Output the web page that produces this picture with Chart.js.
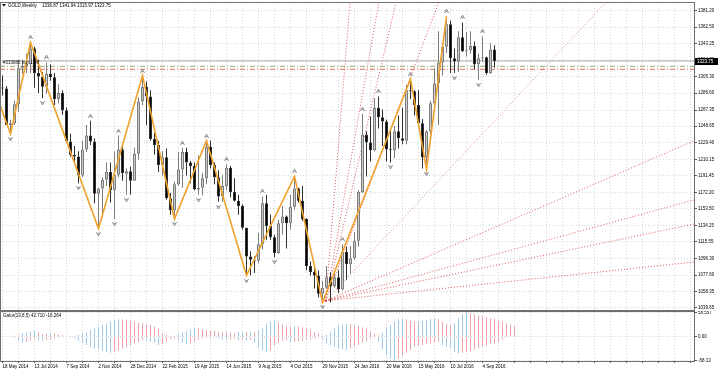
<!DOCTYPE html>
<html>
<head>
<meta charset="utf-8">
<title>GOLD Weekly</title>
<script src="https://cdn.jsdelivr.net/npm/chart.js@4.4.1/dist/chart.umd.min.js"></script>
<style>
  html, body { margin:0; padding:0; background:#ffffff; }
  body { width:718px; height:374px; position:relative; overflow:hidden; }
  canvas { position:absolute; left:0; }
  #priceCanvas { top:0; }
  #gatorCanvas { top:311px; }
</style>
</head>
<body>
<canvas id="priceCanvas" width="718" height="312"></canvas>
<canvas id="gatorCanvas" width="718" height="63"></canvas>
<script>
// ---------- DATA (weekly bars; index 0 = week of 18 May 2014) ----------
const symbolTitle = 'GOLD,Weekly';
const headerValues = '1336.87 1341.94 1315.97 1323.75';
const gatorTitle = 'Gator(13,8,5) 42.710 -16.264';
const tradeLabel = '#333886 buy 1.56';

const firstIdx = -1;
const opens = [1288,1293,1292,1250,1252,1274,1316,1318,1320,1338,
 1310,1306,1294,1309,1305,1280,1287,1267,1231,1216,
 1214,1192,1222,1238,1231,1171,1177,1187,1196,1175,
 1193,1222,1194,1197,1186,1217,1277,1294,1283,1234,
 1227,1204,1213,1166,1152,1182,1199,1219,1207,1203,
 1176,1178,1189,1225,1204,1190,1168,1180,1201,1173,
 1163,1157,1132,1099,1095,1094,1113,1160,1134,1121,
 1103,1137,1145,1137,1156,1177,1163,1142,1088,1081,
 1077,1056,1063,1075,1065,1075,1061,1104,1090,1097,
 1117,1173,1239,1230,1221,1270,1259,1254,1222,1221,
 1243,1235,1232,1290,1289,1273,1252,1213,1243,1275,
 1298,1322,1340,1366,1327,1323,1351,1335,1336,1341,
 1320,1327,1328,1310,1336.87];
const highs = [1305,1307,1295,1256,1278,1325,1325,1332,1345,1340,
 1325,1311,1322,1320,1310,1297,1290,1270,1240,1226,
 1220,1232,1250,1255,1235,1178,1190,1207,1207,1220,
 1238,1225,1200,1202,1224,1282,1307,1300,1290,1241,
 1232,1220,1223,1172,1185,1219,1224,1224,1209,1207,
 1215,1195,1232,1232,1207,1198,1193,1205,1203,1189,
 1170,1159,1132,1105,1099,1126,1168,1170,1147,1124,
 1141,1157,1146,1170,1191,1178,1180,1143,1093,1086,
 1083,1071,1088,1081,1082,1083,1113,1110,1111,1127,
 1175,1263,1243,1260,1281,1283,1268,1256,1244,1249,
 1261,1270,1296,1303,1290,1290,1257,1244,1278,1315,
 1358,1344,1375,1370,1338,1358,1368,1357,1358,1346,
 1332,1352,1329,1344,1341.94];
const lows = [1284,1284,1250,1240,1250,1265,1309,1310,1310,1293,
 1287,1281,1286,1301,1273,1275,1262,1230,1214,1205,
 1183,1190,1219,1227,1160,1131,1145,1180,1161,1142,
 1190,1186,1170,1170,1186,1210,1273,1250,1232,1216,
 1196,1192,1164,1147,1142,1180,1178,1192,1183,1175,
 1170,1169,1182,1200,1182,1162,1162,1175,1167,1162,
 1147,1130,1077,1077,1080,1091,1107,1118,1118,1098,
 1102,1124,1108,1130,1153,1161,1140,1083,1077,1062,
 1052,1046,1062,1046,1063,1057,1060,1072,1079,1095,
 1110,1172,1191,1208,1220,1246,1226,1208,1207,1212,
 1223,1228,1228,1280,1261,1250,1200,1199,1238,1268,
 1250,1307,1333,1310,1310,1311,1334,1329,1332,1314,
 1302,1323,1308,1309,1315.97];
const closes = [1293,1292,1250,1252,1274,1316,1318,1320,1338,1310,
 1306,1294,1309,1305,1280,1287,1267,1231,1216,1214,
 1192,1222,1238,1231,1171,1177,1187,1196,1175,1193,
 1222,1195,1197,1186,1217,1277,1294,1283,1234,1227,
 1204,1213,1166,1152,1182,1199,1219,1207,1203,1176,
 1178,1189,1225,1204,1190,1168,1180,1201,1173,1163,
 1157,1132,1099,1095,1094,1113,1160,1134,1121,1103,
 1137,1145,1137,1156,1177,1163,1142,1088,1081,1077,
 1056,1063,1075,1065,1075,1061,1104,1090,1097,1117,
 1173,1239,1230,1221,1270,1259,1254,1222,1221,1243,
 1235,1232,1290,1289,1273,1252,1213,1243,1275,1298,
 1322,1340,1366,1327,1323,1351,1335,1336,1341,1320,
 1327,1328,1310,1336.87,1323.75];

// time axis labels (week index -> label)
const dateIdx = [0,8,16,24,32,40,48,56,64,72,80,88,96,104,112,120];
const dateLabels = ['18 May 2014','13 Jul 2014','7 Sep 2014','2 Nov 2014','28 Dec 2014','22 Feb 2015',
  '19 Apr 2015','14 Jun 2015','9 Aug 2015','4 Oct 2015','29 Nov 2015','24 Jan 2016','20 Mar 2016',
  '15 May 2016','10 Jul 2016','4 Sep 2016'];
const gridIdx = [0,4,8,12,16,20,24,28,32,36,40,44,48,52,56,60,64,68,72,76,80,84,88,92,96,100,
  104,108,112,116,120,124,128,132,136,140,144,148,152,156,160,164,168,172];

// price axis ticks
const priceTicks = [1381.20,1362.50,1343.25,1324.70,1305.30,1286.60,1267.35,1248.65,1229.40,1210.15,
  1191.45,1172.20,1153.50,1134.25,1115.55,1096.30,1077.60,1058.35,1039.65];
const gatorTicks = [58.557, 0, -58.13];
const gatorTickLabels = ['58.557','0.00','-58.13'];

// ZigZag pivots
const zigzagIdx = [-3,2,7,24,35,43,51,61,73,80,102,106,111];
const zigzagPrice = [1303,1240,1345,1131,1307,1142,1232,1077,1191,1046,1303,1199,1375];

// Fractals (bar indices)
const upFractalIdx = [7,11,22,29,35,45,51,56,65,73,85,90,94,102,111,115,120];
const downFractalIdx = [2,10,19,24,28,31,43,49,54,61,68,80,97,106,113,119];

// Gann fan
const fanOrigin = [80.8, 1048];
const fanEndIdx = [86.9, 94.1, 98.4, 109.1, 150.9, 172.9, 172.9, 172.9, 172.9];
const fanEndPrice = [1391.5, 1391.5, 1391.5, 1391.5, 1391.5, 1232.0, 1163.9, 1136.2, 1092.5];

// horizontal levels (dash-dot)
const levelPrices = [1317.6, 1314.2];

// Gator oscillator (index 0 = week of 18 May 2014)
const gatorUp = [1.6,1.6,1.6,2.4,2.4,8.1,9.8,12.2,14.6,10.6,
 6.5,6.5,8.1,6.5,4.9,4.1,2.4,1.6,1.6,4.1,
 6.5,11.4,16.3,20.3,22.8,28.5,32.5,36.6,40.7,42.3,
 42.3,40.7,39.0,36.6,34.1,32.5,30.9,28.5,24.4,17.9,
 8.1,4.1,2.4,1.6,4.1,9.8,14.6,17.9,20.3,20.3,
 17.9,16.3,14.6,13.8,12.2,12.2,12.2,9.8,8.1,11.4,
 12.2,11.4,12.2,12.2,16.3,20.3,30.9,36.6,39.0,34.1,
 29.3,24.4,24.4,25.2,24.4,22.0,19.5,16.3,11.4,6.5,
 2.4,4.9,12.2,20.3,26.0,28.5,30.9,30.9,28.5,26.0,
 22.8,17.9,12.2,6.5,3.3,8.1,20.3,28.5,36.6,42.3,
 43.1,41.5,38.2,36.6,37.4,38.2,39.8,42.3,44.7,42.3,
 36.6,30.9,27.6,32.5,44.7,52.8,58.5,56.0,53.7,51.2,
 48.8,47.2,44.7,42.7,39.0,35.8,32.5,29.3,26.0];
const gatorDown = [-1.6,-1.6,-1.6,-2.4,-9.8,-14.6,-12.2,-8.1,-4.1,-8.1,
 -9.8,-8.1,-6.5,-4.1,-2.4,-1.6,-1.6,-2.4,-4.1,-9.8,
 -14.6,-20.3,-24.4,-28.5,-30.9,-34.1,-36.6,-39.0,-36.6,-32.5,
 -28.5,-24.4,-20.3,-16.3,-12.2,-8.1,-9.8,-12.2,-14.6,-20.3,
 -17.9,-12.2,-6.5,-4.1,-8.1,-14.6,-17.9,-16.3,-12.2,-6.5,
 -4.1,-2.4,-4.1,-2.4,-4.1,-8.1,-9.8,-6.5,-4.1,-8.1,
 -6.5,-9.8,-8.1,-14.6,-26.0,-32.5,-36.6,-32.5,-20.3,-14.6,
 -9.8,-8.1,-12.2,-12.2,-11.4,-9.8,-8.1,-6.5,-4.1,-2.4,
 -8.1,-16.3,-20.3,-24.4,-28.5,-30.9,-32.5,-28.5,-24.4,-20.3,
 -14.6,-9.8,-4.1,-2.4,-12.2,-30.0,-44.7,-52.8,-58.1,-52.0,
 -45.5,-39.0,-32.5,-24.4,-22.8,-20.3,-17.1,-16.3,-14.6,-12.2,
 -20.3,-24.4,-26.0,-36.6,-40.7,-39.0,-36.6,-34.1,-30.9,-27.6,
 -24.4,-21.1,-18.7,-16.3,-11.4,-6.5,-3.3];

// ---------- STYLE ----------
const FONT = "'Liberation Sans', Arial, sans-serif";
const FS = 4.5;
const X_MIN = -0.625, X_MAX = 172.875;
const BULL_FILL = '#cacaca', BULL_LINE = '#7c7c7c', BEAR_FILL = '#000000', BEAR_LINE = '#303030';
const GRID = '#d6d6d6';
const UP_COL = '#9ec9f0', DOWN_COL = '#f2a3aa';

Chart.defaults.font.family = FONT;
Chart.defaults.font.size = FS;
Chart.defaults.color = '#000';

const idxs = opens.map((_, k) => firstIdx + k);
const isBull = k => closes[k] >= opens[k];
const last = closes.length - 1;

const bodyData = idxs.map((i, k) => ({x: i, y: [opens[k], closes[k]]}));
const wickData = idxs.map((i, k) => ({x: i, y: [lows[k], highs[k]]}));
const zigzagData = zigzagIdx.map((i, k) => ({x: i, y: zigzagPrice[k]}));

const fanSets = fanEndIdx.map((e, k) => ({
  type: 'line',
  data: [{x: fanOrigin[0], y: fanOrigin[1]}, {x: e, y: fanEndPrice[k]}],
  borderColor: k === 4 ? 'rgba(230,115,140,0.9)' : 'rgba(225,55,55,0.85)',
  borderWidth: 1, borderDash: [1, 2], pointRadius: 0, order: 8, clip: 0
}));
const levelSets = levelPrices.map((p, k) => ({
  type: 'line',
  data: [{x: X_MIN, y: p}, {x: X_MAX, y: p}],
  borderColor: k === 0 ? '#9da873' : '#dc6f5e',
  borderWidth: 1, borderDash: [5, 2, 1, 2], pointRadius: 0, order: 7, clip: 0
}));
const bidSet = {
  type: 'line',
  data: [{x: X_MIN, y: closes[last]}, {x: X_MAX, y: closes[last]}],
  borderColor: '#a9a9a9', borderWidth: 1, pointRadius: 0, order: 7, clip: 0
};

function zeroPad(s) { s.paddingLeft = 0; s.paddingRight = 0; s.paddingTop = 0; s.paddingBottom = 0; }

const overlayA = {
  id: 'overlayA',
  afterDatasetsDraw(chart) {
    const {ctx, chartArea: a} = chart;
    const xs = chart.scales.x, ys = chart.scales.y;
    ctx.save();
    ctx.beginPath(); ctx.rect(a.left, a.top, a.right - a.left, a.bottom - a.top); ctx.clip();
    ctx.strokeStyle = '#8e8e8e'; ctx.lineWidth = 1;
    upFractalIdx.forEach(i => {
      const k = i - firstIdx;
      const px = xs.getPixelForValue(i);
      const py = Math.round(ys.getPixelForValue(highs[k])) - 5;
      ctx.beginPath();
      ctx.moveTo(px - 2, py + 2); ctx.lineTo(px, py - 2); ctx.lineTo(px + 2, py + 2);
      ctx.moveTo(px - 1, py + 0.5); ctx.lineTo(px + 1, py + 0.5);
      ctx.stroke();
    });
    downFractalIdx.forEach(i => {
      const k = i - firstIdx;
      const px = xs.getPixelForValue(i);
      const py = Math.round(ys.getPixelForValue(lows[k])) + 5;
      ctx.beginPath();
      ctx.moveTo(px - 2, py - 2); ctx.lineTo(px, py + 2); ctx.lineTo(px + 2, py - 2);
      ctx.moveTo(px - 1, py - 0.5); ctx.lineTo(px + 1, py - 0.5);
      ctx.stroke();
    });
    // fan anchor
    ctx.fillStyle = '#e03030';
    ctx.fillRect(xs.getPixelForValue(fanOrigin[0]) - 1, ys.getPixelForValue(fanOrigin[1]) - 1, 2, 2);
    // trade label
    ctx.fillStyle = '#111';
    ctx.font = FS + 'px ' + FONT;
    ctx.textBaseline = 'middle';
    ctx.fillText(tradeLabel, 3, Math.round(ys.getPixelForValue(closes[last])) + 2);
    ctx.restore();

    ctx.save();
    // header
    ctx.fillStyle = '#000';
    ctx.font = FS + 'px ' + FONT;
    ctx.textBaseline = 'middle';
    ctx.beginPath(); ctx.moveTo(2, 4); ctx.lineTo(6, 4); ctx.lineTo(4, 6.5); ctx.closePath(); ctx.fill();
    ctx.fillText(symbolTitle, 8, 5.5);
    ctx.fillText(headerValues, 42, 5.5);
    // frame
    ctx.strokeStyle = '#707070'; ctx.lineWidth = 1;
    ctx.strokeRect(0.5, a.top + 0.5, a.right, a.bottom - a.top);
    // current price tag
    const py = Math.round(ys.getPixelForValue(closes[last]));
    ctx.fillStyle = '#000';
    ctx.fillRect(a.right + 1, py - 3, 23, 7);
    ctx.fillStyle = '#fff';
    ctx.fillText(closes[last].toFixed(2), a.right + 3, py + 0.5);
    ctx.restore();
  }
};

new Chart(document.getElementById('priceCanvas'), {
  type: 'bar',
  data: {
    datasets: [
      ...fanSets, ...levelSets, bidSet,
      {
        type: 'bar', data: wickData, grouped: false, barThickness: 1, order: 4,
        backgroundColor: c => isBull(c.dataIndex) ? BULL_LINE : BEAR_LINE,
        borderWidth: 0, inflateAmount: 0
      },
      {
        type: 'bar', data: bodyData, grouped: false, barThickness: 3, order: 3, minBarLength: 1,
        backgroundColor: c => isBull(c.dataIndex) ? BULL_FILL : BEAR_FILL,
        borderColor: c => isBull(c.dataIndex) ? BULL_LINE : BEAR_LINE,
        borderWidth: 1, borderSkipped: false, inflateAmount: 0
      },
      {
        type: 'line', data: zigzagData, borderColor: '#f0a22c', borderWidth: 1.6,
        pointRadius: 0, tension: 0, order: 1
      }
    ]
  },
  options: {
    responsive: false, animation: false, devicePixelRatio: 1, events: [],
    layout: { padding: { top: 2, bottom: 2, left: 0, right: 0 } },
    plugins: { legend: { display: false }, tooltip: { enabled: false } },
    scales: {
      x: {
        type: 'linear', min: X_MIN, max: X_MAX, offset: false,
        grid: { color: GRID, drawTicks: false, offset: false, lineWidth: 1 },
        border: { display: false, dash: [1, 2] },
        ticks: { display: false },
        afterBuildTicks: s => { s.ticks = gridIdx.map(v => ({ value: v })); },
        afterFit: s => { s.height = 0; zeroPad(s); }
      },
      y: {
        position: 'right', min: 1037.35, max: 1391.55,
        grid: { color: GRID, tickLength: 3, tickColor: '#555', tickBorderDash: [] },
        border: { display: false, dash: [1, 2] },
        ticks: { padding: 1, color: '#000', font: { size: FS }, callback: v => Number(v).toFixed(2) },
        afterBuildTicks: s => { s.ticks = priceTicks.map(v => ({ value: v })); },
        afterFit: s => { s.width = 24; zeroPad(s); }
      }
    }
  },
  plugins: [overlayA]
});

// ---------- GATOR PANE ----------
const upData = gatorUp.map((v, i) => ({x: i, y: v}));
const downData = gatorDown.map((v, i) => ({x: i, y: v}));

const overlayB = {
  id: 'overlayB',
  afterDatasetsDraw(chart) {
    const {ctx, chartArea: a} = chart;
    ctx.save();
    ctx.fillStyle = '#000';
    ctx.font = FS + 'px ' + FONT;
    ctx.textBaseline = 'middle';
    ctx.fillText(gatorTitle, 3, 4.5);
    ctx.strokeStyle = '#707070'; ctx.lineWidth = 1;
    ctx.strokeRect(0.5, 0.5, a.right, a.bottom);
    ctx.restore();
  }
};

new Chart(document.getElementById('gatorCanvas'), {
  type: 'bar',
  data: {
    datasets: [
      {
        data: upData, grouped: false, barThickness: 1, borderWidth: 0, inflateAmount: 0,
        backgroundColor: c => (c.dataIndex > 0 && gatorUp[c.dataIndex] > gatorUp[c.dataIndex - 1]) ? UP_COL : DOWN_COL
      },
      {
        data: downData, grouped: false, barThickness: 1, borderWidth: 0, inflateAmount: 0,
        backgroundColor: c => (c.dataIndex > 0 && gatorDown[c.dataIndex] < gatorDown[c.dataIndex - 1]) ? UP_COL : DOWN_COL
      }
    ]
  },
  options: {
    responsive: false, animation: false, devicePixelRatio: 1, events: [],
    layout: { padding: { top: 1, bottom: 0, left: 0, right: 0 } },
    plugins: { legend: { display: false }, tooltip: { enabled: false } },
    scales: {
      x: {
        type: 'linear', min: X_MIN, max: X_MAX, offset: false,
        grid: { color: GRID, drawTicks: true, tickLength: 2, tickColor: '#555', tickBorderDash: [], offset: false },
        border: { display: false, dash: [1, 2] },
        ticks: {
          align: 'start', padding: 1, autoSkip: false, maxRotation: 0, minRotation: 0, color: '#000',
          font: { size: FS },
          callback: v => { const k = dateIdx.indexOf(v); return k >= 0 ? dateLabels[k] : ''; }
        },
        afterBuildTicks: s => { s.ticks = gridIdx.map(v => ({ value: v })); },
        afterFit: s => { s.height = 13; zeroPad(s); }
      },
      y: {
        position: 'right', min: -58.6, max: 59.6,
        grid: { color: GRID, tickLength: 3, tickColor: '#555', tickBorderDash: [] },
        border: { display: false, dash: [1, 2] },
        ticks: { padding: 1, color: '#000', font: { size: FS }, callback: (v, i) => gatorTickLabels[i] },
        afterBuildTicks: s => { s.ticks = gatorTicks.map(v => ({ value: v })); },
        afterFit: s => { s.width = 24; zeroPad(s); }
      }
    }
  },
  plugins: [overlayB]
});
</script>
</body>
</html>
